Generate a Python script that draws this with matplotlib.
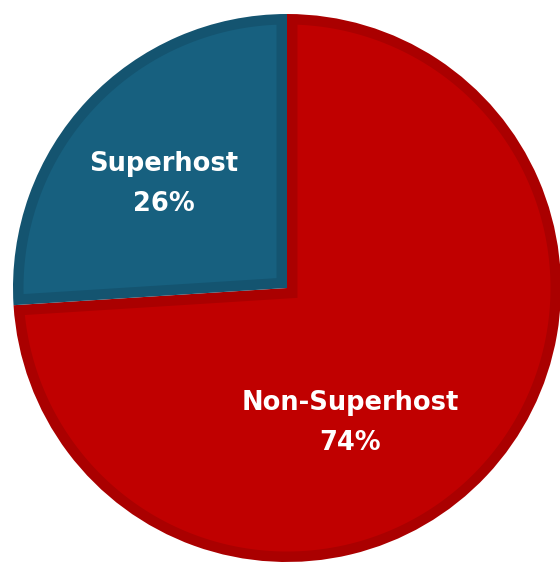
import matplotlib
matplotlib.use("Agg")
import matplotlib.pyplot as plt
from matplotlib.patches import Polygon
import numpy as np

# data
labels = ["Non-Superhost", "Superhost"]
shares = [74, 26]
fills = ["#C00000", "#17607F"]
borders = ["#AA0000", "#145470"]

fig = plt.figure(figsize=(5.6, 5.65), dpi=100)
ax = fig.add_axes([0, 0, 1, 1])

cx, cy, r = 287, 277, 274
border = 10.5

# full wedges in the border colour
wedges, _ = ax.pie(shares, colors=borders, startangle=90, counterclock=False,
                   center=(cx, cy), radius=r, frame=True,
                   wedgeprops=dict(linewidth=0))
ax.set_xlim(0, 560)
ax.set_ylim(0, 565)
ax.axis("off")


def inset_wedge(w, b):
    # wedge shrunk by b on every side -> leaves an inner border
    c = np.array(w.center, dtype=float)
    t1, t2 = np.radians(w.theta1), np.radians(w.theta2)
    u1 = np.array([np.cos(t1), np.sin(t1)])
    u2 = np.array([np.cos(t2), np.sin(t2)])
    n1 = np.array([-np.sin(t1), np.cos(t1)])
    n2 = np.array([np.sin(t2), -np.cos(t2)])
    s, _ = np.linalg.solve(np.column_stack([u1, -u2]), b * (n2 - n1))
    corner = c + b * n1 + s * u1
    ri = w.r - b
    d = np.arcsin(b / ri)
    a = np.linspace(t1 + d, t2 - d, 300)
    arc = np.column_stack([c[0] + ri * np.cos(a), c[1] + ri * np.sin(a)])
    return np.vstack([corner, arc])


for w, fc in zip(wedges, fills):
    ax.add_patch(Polygon(inset_wedge(w, border), closed=True,
                         facecolor=fc, edgecolor="none"))

# label offsets as fractions of the radius
label_pos = [(0.23, -0.492), (-0.449, 0.379)]
for lab, val, (fx, fy) in zip(labels, shares, label_pos):
    ax.text(cx + fx * r, cy + fy * r, "%s\n%d%%" % (lab, val),
            ha="center", va="center", color="white", fontsize=18.5,
            fontweight="bold", family="DejaVu Sans", linespacing=1.72)

fig.savefig("out.png", dpi=100)
